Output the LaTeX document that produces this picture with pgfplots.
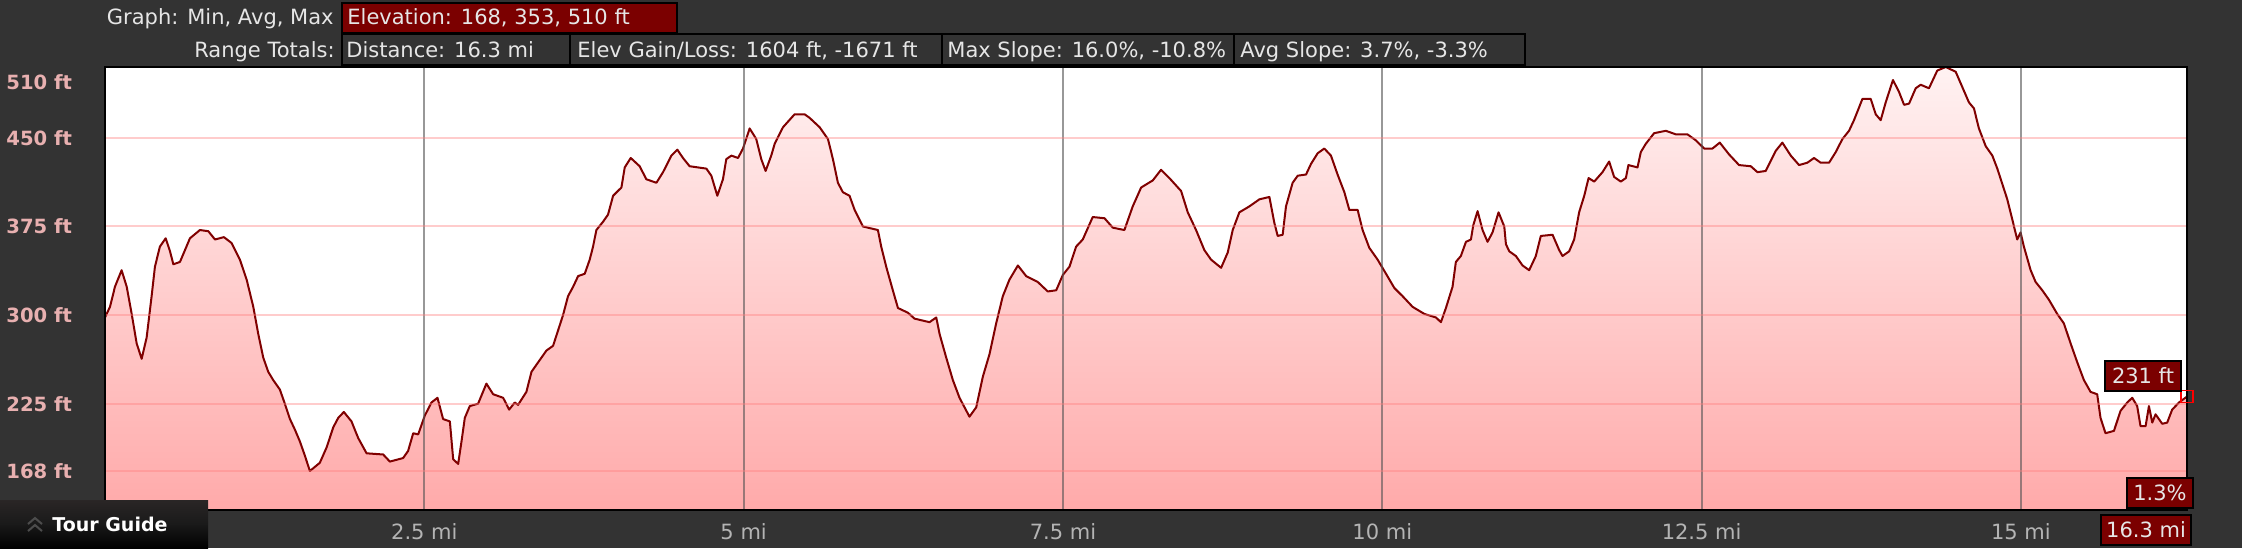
\documentclass[border=0pt]{standalone}
\usepackage{fontspec}
\setmainfont{DejaVu Sans}
\usepackage{pgfplots}
\usepackage{pgfplotstable}
\pgfplotsset{compat=1.18}

\definecolor{bgdark}{HTML}{333333}
\definecolor{boxred}{HTML}{7B0000}
\definecolor{hdrtext}{HTML}{E6E6E6}
\definecolor{tickpink}{HTML}{E8B0B0}
\definecolor{tickgray}{HTML}{B4B4B4}
\definecolor{linered}{HTML}{800000}
\definecolor{filltop}{HTML}{FFF2F2}
\definecolor{fillbot}{HTML}{FFAAAA}
\definecolor{gridpink}{HTML}{FF8080}
\definecolor{tgtop}{HTML}{2A2626}

% elevation profile: distance (mi), elevation (ft)
\pgfplotstableread{
x y
0.000 298
0.039 307
0.078 324
0.130 338
0.170 324
0.209 301
0.248 276
0.287 263
0.326 281
0.365 316
0.391 341
0.430 358
0.475 365
0.509 354
0.535 343
0.587 345
0.626 355
0.665 365
0.743 372
0.809 371
0.861 364
0.931 366
0.991 361
1.056 347
1.109 330
1.161 307
1.200 284
1.239 264
1.278 252
1.317 245
1.369 237
1.408 225
1.448 212
1.487 203
1.526 193
1.565 181
1.604 168
1.682 175
1.735 188
1.787 205
1.826 213
1.870 218
1.930 210
1.982 196
2.048 183
2.178 182
2.230 176
2.334 179
2.373 185
2.413 200
2.452 199
2.504 215
2.556 226
2.603 230
2.647 212
2.700 210
2.726 178
2.765 174
2.791 193
2.817 213
2.856 223
2.921 225
2.986 242
3.039 233
3.117 230
3.164 220
3.208 226
3.234 224
3.299 235
3.339 252
3.391 260
3.456 270
3.508 274
3.547 287
3.586 300
3.625 316
3.665 324
3.704 333
3.756 335
3.795 347
3.821 358
3.847 372
3.899 379
3.938 385
3.978 401
4.043 408
4.069 425
4.116 433
4.186 426
4.238 415
4.317 412
4.369 421
4.434 435
4.481 440
4.525 433
4.577 426
4.708 424
4.747 418
4.794 401
4.838 415
4.864 432
4.904 435
4.956 433
4.995 441
5.047 458
5.099 449
5.138 432
5.172 422
5.216 435
5.243 445
5.308 459
5.399 470
5.477 470
5.516 467
5.595 459
5.660 449
5.699 432
5.738 412
5.777 404
5.829 401
5.869 389
5.934 375
6.051 372
6.077 358
6.116 341
6.168 321
6.208 306
6.286 302
6.338 297
6.455 294
6.508 298
6.534 284
6.586 264
6.638 245
6.690 230
6.729 222
6.768 214
6.821 222
6.873 248
6.925 267
6.977 293
7.029 316
7.081 330
7.147 342
7.212 333
7.303 328
7.381 320
7.447 321
7.499 334
7.551 341
7.603 358
7.655 364
7.733 383
7.825 382
7.890 374
7.981 372
8.046 392
8.112 408
8.203 414
8.268 423
8.333 416
8.425 405
8.477 387
8.542 372
8.607 355
8.659 347
8.738 340
8.790 353
8.829 372
8.881 387
8.959 392
9.038 398
9.116 400
9.155 378
9.181 367
9.220 368
9.246 392
9.298 412
9.338 418
9.403 419
9.442 428
9.494 437
9.546 441
9.598 435
9.650 419
9.703 404
9.742 389
9.807 389
9.846 372
9.898 357
9.963 347
10.029 335
10.094 323
10.159 316
10.237 307
10.329 301
10.420 298
10.459 294
10.498 306
10.550 324
10.576 345
10.615 350
10.655 362
10.694 364
10.712 376
10.746 388
10.785 372
10.824 362
10.863 370
10.910 387
10.955 375
10.968 360
10.994 354
11.046 350
11.098 342
11.150 338
11.202 350
11.241 367
11.333 368
11.385 355
11.411 350
11.463 354
11.502 364
11.541 387
11.581 401
11.615 416
11.659 413
11.724 421
11.776 430
11.815 417
11.867 413
11.907 416
11.927 427
11.998 425
12.024 438
12.063 445
12.128 454
12.220 456
12.298 453
12.389 453
12.454 448
12.520 441
12.585 441
12.642 446
12.715 436
12.793 427
12.885 426
12.937 421
13.002 422
13.080 439
13.132 446
13.198 435
13.263 427
13.328 429
13.380 433
13.432 429
13.498 429
13.550 438
13.602 449
13.654 456
13.693 465
13.759 483
13.824 483
13.863 470
13.902 465
13.941 480
13.998 499
14.045 489
14.085 478
14.124 479
14.176 492
14.215 495
14.280 492
14.345 507
14.411 510
14.489 506
14.541 493
14.593 480
14.632 475
14.671 458
14.724 443
14.776 435
14.815 424
14.854 411
14.893 398
14.932 381
14.971 364
14.997 370
15.023 358
15.076 338
15.115 328
15.167 321
15.219 313
15.284 301
15.336 293
15.389 276
15.441 260
15.493 245
15.545 235
15.597 233
15.623 213
15.662 200
15.728 202
15.780 219
15.832 226
15.871 230
15.910 223
15.936 206
15.976 206
16.002 223
16.028 209
16.054 216
16.106 208
16.145 209
16.184 220
16.237 226
16.300 231
}\elev

\begin{document}
\begin{tikzpicture}
% page: 2242 x 548 px, 1 px = 0.5pt, y downward
\begin{scope}[x=0.5pt, y=-0.5pt]
  \fill[bgdark] (0,0) rectangle (2242,548);
  \useasboundingbox (0,0) rectangle (2242,548);
\end{scope}

\begin{axis}[
  at={(52.5pt,-255pt)}, anchor=south west,
  scale only axis, width=1041pt, height=221.5pt,
  xmin=0, xmax=16.3, ymin=135, ymax=510,
  clip=false,
  axis on top,
  axis background/.style={fill=white},
  axis line style={black, line width=1.2pt},
  major tick length=0pt,
  xtick={2.5,5,7.5,10,12.5,15},
  xticklabels={2.5 mi,5 mi,7.5 mi,10 mi,12.5 mi,15 mi},
  ytick={168,225,300,375,450},
  yticklabels={168 ft,225 ft,300 ft,375 ft,450 ft},
  extra y ticks={510},
  extra y tick labels={510 ft},
  extra y tick style={grid=none, yticklabel style={yshift=-7.5pt}},
  xmajorgrids, ymajorgrids,
  every axis x grid/.append style={draw=black!67, draw opacity=0.6, line width=1pt},
  every axis y grid/.append style={draw=gridpink, draw opacity=0.4, line width=1pt},
  xticklabel style={anchor=base, inner sep=0pt, yshift=-14.5pt,
    text=tickgray, font=\fontsize{10.5}{12}\selectfont},
  yticklabel style={anchor=base west, inner sep=0pt, xshift=-49.5pt, yshift=-3.75pt,
    text=tickpink, font=\fontsize{9.8}{12}\selectfont\bfseries},
]
\addplot[draw=none, top color=filltop, bottom color=fillbot]
  table[x=x, y=y] {\elev} -- (axis cs:16.3,135) -- (axis cs:0,135) -- cycle;
\addplot[linered, line width=1pt, line join=round] table[x=x, y=y] {\elev};
\addplot[only marks, mark=square, mark size=3pt, red, mark options={line width=0.8pt}]
  coordinates {(16.3,231)};
\end{axis}

\begin{scope}[x=0.5pt, y=-0.5pt, font=\fontsize{10.5}{12}\selectfont]
  % header row 1
  \node[anchor=base east, inner sep=0pt, text=hdrtext] at (334,24.5) {Graph: Min, Avg, Max};
  \draw[fill=boxred, draw=black, line width=1pt] (342,3) rectangle (677,33);
  \node[anchor=base west, inner sep=0pt, text=hdrtext] at (347,24.5) {Elevation: 168, 353, 510 ft};
  % header row 2
  \node[anchor=base east, inner sep=0pt, text=hdrtext] at (335,57) {Range Totals:};
  \draw[fill=bgdark, draw=black, line width=1pt] (342,34) rectangle (570,65);
  \draw[fill=bgdark, draw=black, line width=1pt] (570,34) rectangle (942,65);
  \draw[fill=bgdark, draw=black, line width=1pt] (942,34) rectangle (1234,65);
  \draw[fill=bgdark, draw=black, line width=1pt] (1234,34) rectangle (1525,65);
  \node[anchor=base west, inner sep=0pt, text=hdrtext] at (346,57) {Distance: 16.3 mi};
  \node[anchor=base west, inner sep=0pt, text=hdrtext] at (577,57) {Elev Gain/Loss: 1604 ft, -1671 ft};
  \node[anchor=base west, inner sep=0pt, text=hdrtext] at (947,57) {Max Slope: 16.0\%, -10.8\%};
  \node[anchor=base west, inner sep=0pt, text=hdrtext] at (1240,57) {Avg Slope: 3.7\%, -3.3\%};

  % end-point readouts
  \draw[fill=boxred, draw=black, line width=1pt] (2105,361) rectangle (2181,391);
  \node[anchor=base, inner sep=0pt, text=hdrtext] at (2143,383) {231 ft};
  \draw[fill=boxred, draw=black, line width=1pt] (2127,478) rectangle (2193,508);
  \node[anchor=base, inner sep=0pt, text=hdrtext] at (2160,500) {1.3\%};
  \draw[fill=boxred, draw=black, line width=1pt] (2101,515) rectangle (2191,545);
  \node[anchor=base, inner sep=0pt, text=hdrtext] at (2146,537) {16.3 mi};

  % Tour Guide button
  \shade[top color=tgtop, bottom color=black, middle color=black!90] (0,500) rectangle (208,548);
  \draw[black!70!white, line width=1pt] (28,524) -- (35,518) -- (42,524);
  \draw[black!70!white, line width=1pt] (28,531) -- (35,525) -- (42,531);
  \node[anchor=base west, inner sep=0pt, text=white, font=\fontsize{9.5}{12}\selectfont\bfseries]
    at (52,531) {Tour Guide};
\end{scope}
\end{tikzpicture}
\end{document}
